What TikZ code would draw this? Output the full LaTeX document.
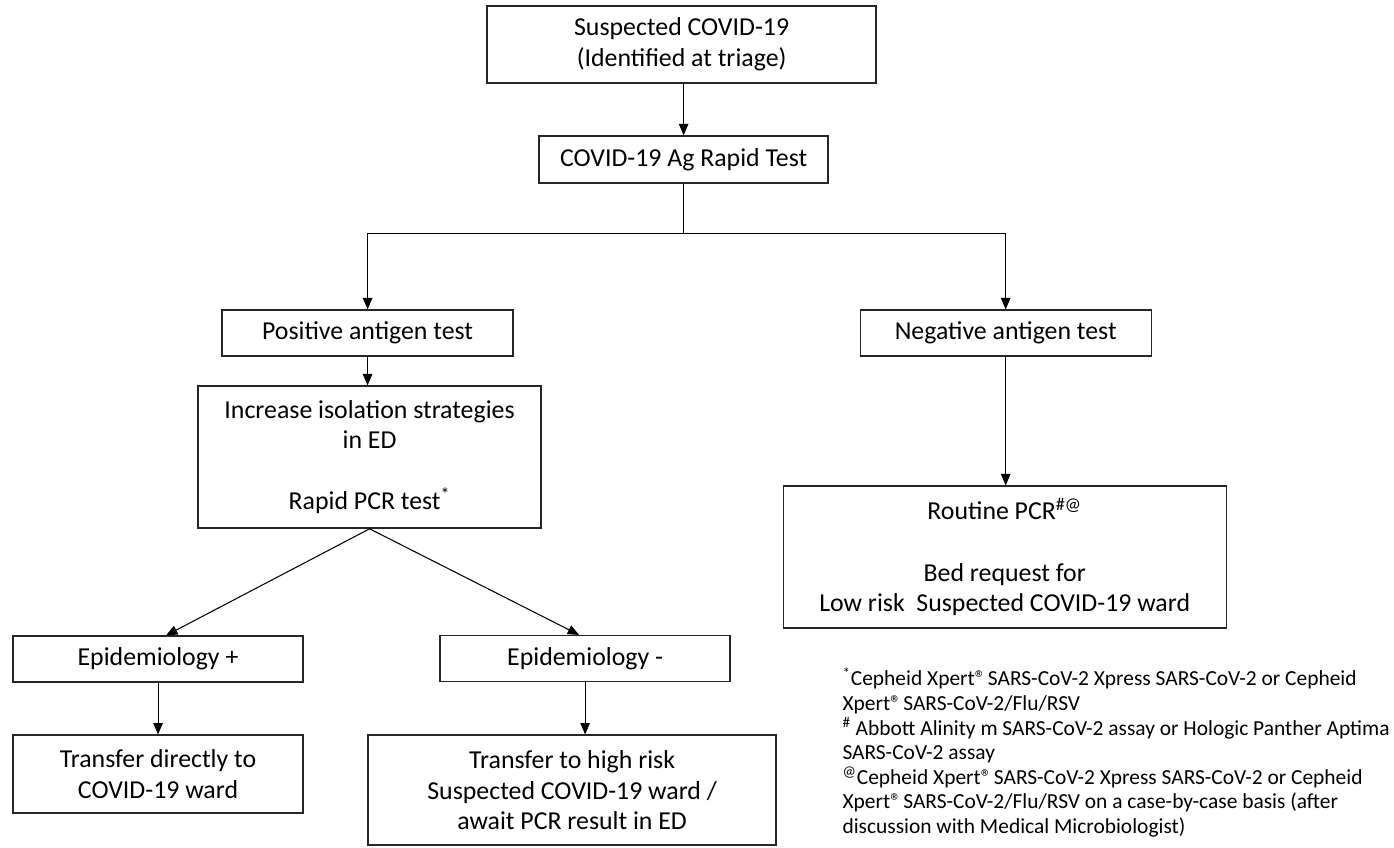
\documentclass[tikz,border=0pt]{standalone}
\usepackage{fontspec}
\setmainfont{Carlito}
\usetikzlibrary{arrows.meta}
\newcommand{\regmark}{®\kern-1.5pt}

\begin{document}
\begin{tikzpicture}
	\useasboundingbox (0,0) rectangle (27.88,-16.94);
	\begin{scope}[x=0.02cm, y=-0.02cm, >={Triangle[length=6.5pt, width=5.4pt]}]
	\tikzstyle{every node}=[align=center, inner sep=0pt, font=\fontsize{14.7}{17.4}\selectfont]
	\tikzstyle{stage}=[draw=black!85, line width=0.8pt]
		\node[stage, minimum width=7.78cm, minimum height=1.54cm] (susp) at (681.5, 44.5) {Suspected COVID-19\\(Identified at triage)};
		\node[stage, minimum width=5.78cm, minimum height=0.94cm] (agtest) at (683.5, 159.5) {COVID-19 Ag Rapid Test};
		\node[stage, minimum width=5.82cm, minimum height=0.92cm] (pos) at (367.5, 333) {Positive antigen test};
		\node[stage, minimum width=5.82cm, minimum height=0.92cm] (neg) at (1005.5, 333) {Negative antigen test};
		\node[stage, minimum width=6.86cm, minimum height=2.84cm] (iso) at (369.5, 457) {Increase isolation strategies\\in ED\\[17.4pt]Rapid PCR test\textsuperscript{*}};
		\node[stage, minimum width=8.86cm, minimum height=2.84cm] (routine) at (1004.5, 557) {Routine PCR\textsuperscript{\#@}\\[17.4pt]Bed request for\\Low risk~ Suspected COVID-19 ward};
		\node[stage, minimum width=5.8cm, minimum height=0.92cm] (epip) at (158, 659) {Epidemiology +};
		\node[stage, minimum width=5.8cm, minimum height=0.92cm] (epim) at (585, 658.5) {Epidemiology -};
		\node[stage, minimum width=5.8cm, minimum height=1.56cm] (direct) at (158, 774) {Transfer directly to\\COVID-19 ward};
		\node[stage, minimum width=8.16cm, minimum height=2.2cm] (highrisk) at (572, 790) {Transfer to high risk\\Suspected COVID-19 ward /\\await PCR result in ED};
		\node[anchor=north west, align=left, font=\fontsize{12.2}{14}\selectfont] (notes) at (842, 667) {\textsuperscript{*}Cepheid Xpert\regmark{} SARS-CoV-2 Xpress SARS-CoV-2 or Cepheid\\Xpert\regmark{} SARS-CoV-2/Flu/RSV\\\textsuperscript{\#} Abbott Alinity m SARS-CoV-2 assay or Hologic Panther Aptima\\SARS-CoV-2 assay\\\textsuperscript{@}Cepheid Xpert\regmark{} SARS-CoV-2 Xpress SARS-CoV-2 or Cepheid\\Xpert\regmark{} SARS-CoV-2/Flu/RSV on a case-by-case basis (after\\discussion with Medical Microbiologist)};

		\coordinate (split) at (683.5, 233);
		\draw[line width=0.6pt] (agtest.south) -- (split);
		\draw[->, line width=0.6pt] (susp.south -| agtest.south) -- (agtest.north);
		\draw[->, line width=0.6pt] (split) -| (pos.north);
		\draw[->, line width=0.6pt] (split) -| (neg.north);
		\draw[->, line width=0.6pt] (pos.south) -- (pos.south |- iso.north);
		\draw[->, line width=0.6pt] (neg.south) -- (neg.south |- routine.north);
		\draw[->, line width=0.6pt] (iso.south) -- ([xshift=0.16cm]epip.north);
		\draw[->, line width=0.6pt] (iso.south) -- ([xshift=-0.12cm]epim.north);
		\draw[->, line width=0.6pt] (epip.south) -- (direct.north);
		\draw[->, line width=0.6pt] (epim.south) -- (epim.south |- highrisk.north);
	\end{scope}
\end{tikzpicture}
\end{document}
